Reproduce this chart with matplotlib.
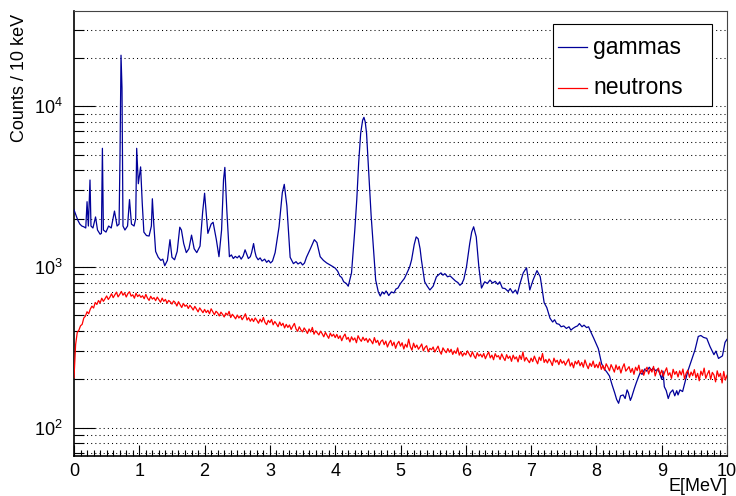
"""
Gamma- und Neutronenspektrum (Counts / 10 keV) im ROOT-Stil.
"""

# === Imports ===
import numpy as np
import matplotlib
matplotlib.use("Agg")
import matplotlib.pyplot as plt
from matplotlib.patches import Rectangle
from matplotlib.ticker import LogLocator, NullFormatter, MultipleLocator

plt.rcParams['font.family'] = ['Liberation Sans', 'DejaVu Sans']
plt.rcParams['mathtext.fontset'] = 'custom'
plt.rcParams['mathtext.rm'] = 'Liberation Sans'
plt.rcParams['mathtext.it'] = 'Liberation Sans:italic'

# === Daten ===
e_min = 0.0
e_max = 10.0

# Gammaspektrum: Stützstellen (MeV) und Counts, feiner an den Linien
gamma_energie = [
    0.00, 0.03, 0.06, 0.09, 0.12, 0.15, 0.18, 0.20, 0.22, 0.245,
    0.26, 0.29, 0.33, 0.36, 0.40, 0.42, 0.435, 0.45, 0.49, 0.53,
    0.57, 0.62, 0.66, 0.69, 0.705, 0.72, 0.735, 0.75, 0.78, 0.82,
    0.85, 0.88, 0.92, 0.945, 0.96, 0.985, 1.02, 1.045, 1.07, 1.11,
    1.15, 1.185, 1.20, 1.22, 1.25, 1.29, 1.33, 1.36, 1.39, 1.43,
    1.47, 1.50, 1.54, 1.58, 1.62, 1.645, 1.68, 1.72, 1.76, 1.80,
    1.84, 1.88, 1.93, 1.97, 2.00, 2.05, 2.10, 2.13, 2.18, 2.22,
    2.26, 2.29, 2.31, 2.34, 2.38, 2.41, 2.44, 2.47, 2.50, 2.53,
    2.56, 2.59, 2.62, 2.645, 2.67, 2.70, 2.72, 2.75, 2.77, 2.79,
    2.82, 2.85, 2.88, 2.92, 2.95, 2.98, 3.01, 3.04, 3.08, 3.14,
    3.19, 3.22, 3.26, 3.31, 3.36, 3.40, 3.43, 3.47, 3.50, 3.53,
    3.56, 3.62, 3.68, 3.72, 3.77, 3.82, 3.87, 3.94, 4.00, 4.04,
    4.07, 4.10, 4.13, 4.17, 4.20, 4.25, 4.30, 4.33, 4.36, 4.39,
    4.42, 4.44, 4.46, 4.48, 4.52, 4.55, 4.58, 4.62, 4.66, 4.69,
    4.72, 4.75, 4.78, 4.82, 4.86, 4.90, 4.93, 4.96, 5.00, 5.06,
    5.10, 5.14, 5.17, 5.21, 5.24, 5.27, 5.30, 5.32, 5.37, 5.41,
    5.45, 5.50, 5.55, 5.59, 5.62, 5.65, 5.68, 5.72, 5.76, 5.80,
    5.84, 5.88, 5.91, 5.94, 5.97, 6.01, 6.06, 6.09, 6.12, 6.16,
    6.20, 6.24, 6.29, 6.33, 6.37, 6.41, 6.45, 6.49, 6.52, 6.56,
    6.60, 6.65, 6.68, 6.72, 6.76, 6.79, 6.83, 6.88, 6.93, 6.98,
    7.03, 7.09, 7.14, 7.20, 7.24, 7.29, 7.33, 7.36, 7.39, 7.43,
    7.46, 7.50, 7.54, 7.58, 7.61, 7.64, 7.68, 7.71, 7.74, 7.78,
    7.81, 7.85, 7.88, 7.92, 7.96, 8.00, 8.03, 8.08, 8.13, 8.16,
    8.20, 8.24, 8.28, 8.31, 8.34, 8.37, 8.41, 8.44, 8.47, 8.49,
    8.52, 8.54, 8.58, 8.61, 8.64, 8.67, 8.70, 8.74, 8.77, 8.81,
    8.84, 8.87, 8.91, 8.94, 8.97, 9.00, 9.02, 9.04, 9.07, 9.10,
    9.13, 9.17, 9.20, 9.23, 9.25, 9.28, 9.32, 9.36, 9.40, 9.46,
    9.51, 9.56, 9.60, 9.64, 9.69, 9.74, 9.80, 9.83, 9.87, 9.90,
    9.93, 9.97, 10.00,
]
gamma_counts = [
    2270, 2100, 1950, 1850, 1800, 1780, 1750, 2550, 1800, 3480,
    1800, 1750, 2050, 1700, 1600, 1620, 5480, 1700, 1650, 1800,
    1750, 2230, 1800, 1850, 5000, 20800, 13000, 1800, 1700, 1800,
    2630, 1850, 1800, 2000, 5480, 3300, 4200, 2500, 1650, 1570,
    1560, 1800, 2660, 1900, 1250, 1150, 1100, 1120, 1020, 1100,
    1480, 1150, 1110, 1250, 1770, 1700, 1400, 1230, 1300, 1580,
    1300, 1230, 1350, 2200, 2880, 1620, 1850, 1900, 1480, 1160,
    1700, 3500, 4170, 2270, 1160, 1190, 1130, 1165, 1140, 1175,
    1120, 1170, 1280, 1200, 1130, 1160, 1230, 1400, 1250, 1160,
    1110, 1140, 1090, 1120, 1070, 1100, 1060, 1090, 1230, 1780,
    2900, 3270, 2400, 1150, 1050, 1080, 1045, 1070, 1030, 1060,
    1150, 1300, 1480, 1420, 1160, 1100, 1060, 1020, 985, 940,
    880, 860, 810, 790, 760, 920, 1700, 2610, 4500, 6790,
    8200, 8540, 8000, 6800, 3490, 2100, 1400, 830, 700, 660,
    700, 680, 710, 665, 700, 690, 730, 740, 790, 850,
    920, 1000, 1110, 1380, 1540, 1500, 1300, 1110, 810, 760,
    720, 760, 870, 900, 920, 890, 910, 870, 880, 850,
    820, 800, 770, 790, 840, 1000, 1400, 1650, 1780, 1540,
    1000, 740, 810, 790, 830, 795, 815, 780, 810, 740,
    735, 705, 735, 690, 720, 680, 790, 920, 990, 720,
    830, 950, 870, 600, 560, 480, 455, 470, 445, 440,
    425, 430, 415, 425, 405, 415, 425, 430, 445, 425,
    435, 420, 425, 390, 360, 330, 310, 250, 230, 222,
    210, 185, 165, 150, 142, 158, 160, 152, 172, 165,
    148, 155, 175, 190, 205, 220, 215, 232, 225, 238,
    228, 235, 226, 232, 218, 200, 225, 180, 170, 152,
    165, 172, 158, 170, 160, 172, 168, 195, 225, 265,
    305, 370, 375, 365, 360, 320, 285, 300, 270, 275,
    280, 340, 355,
]

# Neutronenspektrum: Counts alle 25 keV von 0 bis 10 MeV
neutronen_counts = [
    205, 330, 392, 405, 431, 440, 482, 495, 527, 512,
    548, 571, 556, 602, 585, 619, 598, 640, 612, 635,
    661, 628, 650, 682, 645, 671, 698, 652, 676, 705,
    668, 690, 651, 684, 702, 659, 672, 640, 688, 655,
    672, 648, 663, 635, 676, 641, 620, 658, 632, 645,
    618, 650, 627, 604, 641, 612, 629, 596, 620, 607,
    588, 615, 601, 572, 609, 583, 560, 594, 570, 581,
    552, 578, 561, 540, 569, 548, 526, 557, 538, 520,
    545, 521, 538, 512, 550, 527, 505, 531, 518, 496,
    524, 508, 489, 517, 502, 530, 485, 508, 493, 476,
    503, 482, 497, 470, 489, 512, 468, 484, 460, 478,
    458, 482, 466, 447, 474, 455, 486, 452, 438, 466,
    451, 472, 437, 458, 443, 425, 455, 432, 447, 418,
    440, 421, 436, 409, 428, 446, 412, 398, 425, 406,
    395, 418, 403, 386, 412, 394, 421, 382, 401, 389,
    378, 399, 385, 368, 392, 376, 360, 388, 371, 382,
    364, 381, 359, 374, 348, 369, 383, 355, 365, 342,
    368, 351, 362, 338, 374, 356, 345, 366, 349, 360,
    340, 358, 347, 333, 364, 339, 350, 326, 345, 352,
    329, 346, 318, 337, 350, 324, 341, 312, 333, 345,
    322, 338, 309, 331, 317, 356, 320, 304, 336, 315,
    327, 308, 319, 332, 301, 316, 324, 297, 312, 306,
    318, 296, 309, 322, 299, 287, 314, 302, 293, 311,
    295, 308, 286, 301, 290, 314, 283, 298, 279, 292,
    284, 301, 288, 276, 297, 281, 270, 293, 279, 287,
    275, 290, 269, 284, 296, 272, 283, 265, 289, 276,
    281, 266, 288, 273, 262, 285, 270, 279, 259, 283,
    268, 276, 257, 282, 266, 296, 260, 274, 263, 254,
    271, 258, 279, 263, 250, 275, 262, 290, 255, 266,
    253, 268, 258, 244, 271, 256, 263, 247, 266, 252,
    260, 245, 257, 268, 242, 254, 236, 259, 249, 262,
    243, 255, 238, 264, 246, 233, 252, 241, 260, 237,
    248, 236, 256, 231, 244, 228, 250, 239, 226, 247,
    235, 222, 246, 230, 241, 219, 237, 250, 225, 232,
    240, 221, 234, 215, 238, 227, 245, 218, 230, 212,
    229, 238, 216, 233, 222, 241, 210, 226, 235, 214,
    228, 209, 224, 236, 212, 220, 203, 231, 215, 224,
    207, 226, 213, 232, 201, 219, 228, 206, 222, 211,
    230, 204, 218, 196, 225, 212, 235, 203, 216, 227,
    200, 221, 213, 193, 226, 208, 218, 190, 224, 198,
    212,
]
neutronen_energie = np.linspace(e_min, e_max, len(neutronen_counts))

legenden_namen = ['gammas', 'neutrons']
farben = ['#000099', '#ff0000']

# === Plot ===
fig = plt.figure(figsize=(7.36, 4.96), dpi=100)
ax = fig.add_axes([74 / 736, 1 - 455.7 / 496, 653 / 736, 444.7 / 496])

ax.plot(gamma_energie, gamma_counts, color=farben[0], lw=0.9, zorder=3)
ax.plot(neutronen_energie, neutronen_counts, color=farben[1], lw=0.9, zorder=4)

ax.set_xlim(e_min, e_max)
ax.set_yscale('log')
ax.set_ylim(67, 39200)

# Achsen und Ticks wie in ROOT (nach innen, nur links/unten)
ax.xaxis.set_major_locator(MultipleLocator(1))
ax.xaxis.set_minor_locator(MultipleLocator(0.1))
ax.yaxis.set_major_locator(LogLocator(base=10))
ax.yaxis.set_minor_locator(LogLocator(base=10, subs=np.arange(2, 10)))
ax.yaxis.set_minor_formatter(NullFormatter())

ax.tick_params(axis='x', which='major', direction='in', length=8, width=0.8,
               top=False, labelsize=13, pad=5)
ax.tick_params(axis='x', which='minor', direction='in', length=4, width=0.8, top=False)
ax.tick_params(axis='y', which='major', direction='in', length=15, width=0.8,
               right=False, labelsize=13, pad=8)
ax.tick_params(axis='y', which='minor', direction='in', length=7, width=0.8, right=False)

ax.yaxis.grid(True, which='both', color='black', linestyle=(0, (1, 3)), lw=0.75)
ax.set_axisbelow(True)

for seite in ['left', 'bottom']:
    ax.spines[seite].set_linewidth(1.2)
    ax.spines[seite].set_color('black')
for seite in ['top', 'right']:
    ax.spines[seite].set_linewidth(0.8)
    ax.spines[seite].set_color('#444444')

ax.set_ylabel('Counts / 10 keV', fontsize=13, loc='top')
ax.yaxis.set_label_coords(-0.070, 0.993)
ax.set_xlabel('E[MeV]', fontsize=13, loc='right')
ax.xaxis.set_label_coords(1.0, -0.050)

# === Legende (Kasten wie in ROOT) ===
ax.add_patch(Rectangle((0.733, 0.786), 0.2445, 0.184, transform=ax.transAxes,
                       facecolor='white', edgecolor='black', lw=0.8, zorder=6))
for name, farbe, y in zip(legenden_namen, farben, [0.919, 0.827]):
    ax.plot([0.7412, 0.7856], [y, y], transform=ax.transAxes, color=farbe,
            lw=0.9, zorder=7)
    ax.text(0.7948, y, name, transform=ax.transAxes, fontsize=16.6,
            va='center', ha='left', zorder=7)

fig.savefig('out.png', dpi=100)
